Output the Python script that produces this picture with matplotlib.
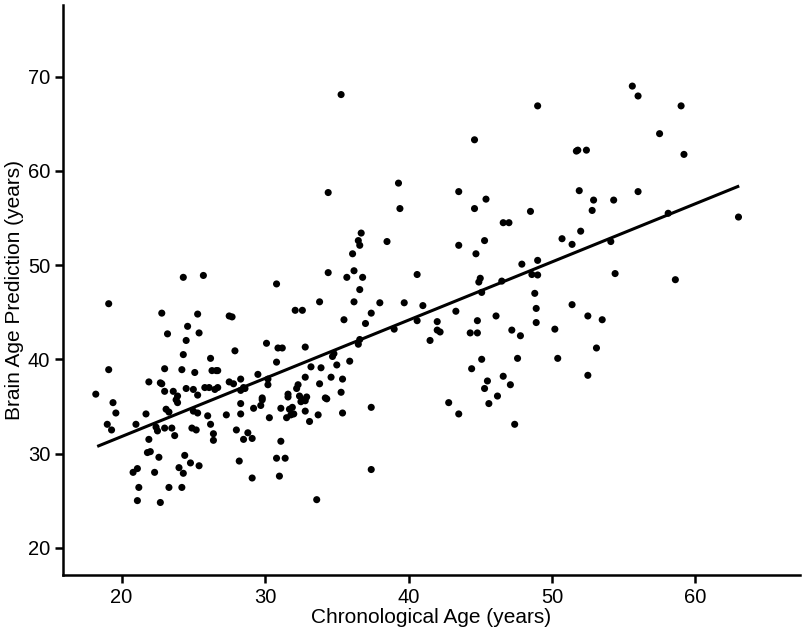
import matplotlib

matplotlib.use("Agg")
import matplotlib.pyplot as plt
import numpy as np

# chronological age (x) and predicted brain age (y)
chrono_age = [
    18.2, 19.1, 19.1, 19.4, 19.0, 19.3, 19.6, 21.0, 20.8, 21.1,
    21.2, 21.1, 21.7, 21.9, 21.9, 21.8, 22.0, 22.3, 22.6, 22.4,
    22.5, 22.7, 22.8, 22.8, 22.7, 23.0, 23.0, 23.2, 23.1, 23.3,
    23.0, 23.3, 23.5, 23.6, 23.7, 23.8, 23.9, 24.0, 24.2, 24.2,
    24.3, 24.3, 24.3, 24.4, 24.5, 24.6, 24.5, 24.8, 24.9, 25.0,
    25.1, 25.0, 25.2, 25.3, 25.3, 25.3, 25.4, 25.4, 25.7, 25.8,
    26.0, 26.2, 26.1, 26.2, 26.3, 26.6, 26.4, 26.4, 26.5, 26.7,
    26.7, 27.3, 27.5, 27.5, 27.7, 27.8, 27.9, 28.0, 28.2, 28.3,
    28.3, 28.3, 28.3, 28.5, 28.5, 28.8, 29.1, 29.1, 29.2, 29.5,
    29.7, 29.8, 30.1, 30.2, 30.2, 30.3, 30.8, 30.8, 30.8, 30.9,
    31.0, 31.1, 31.1, 31.2, 31.4, 31.5, 31.6, 31.7, 31.8, 31.9,
    32.0, 32.1, 32.2, 32.3, 32.4, 32.5, 32.6, 32.6, 32.8, 32.8,
    32.8, 32.8, 33.1, 33.2, 33.6, 33.7, 33.8, 33.8, 33.9, 34.2,
    34.3, 34.4, 34.4, 34.6, 34.7, 34.8, 35.0, 35.3, 35.3, 35.4,
    35.4, 35.5, 35.7, 35.9, 36.1, 36.2, 36.2, 36.5, 36.6, 36.6,
    36.5, 36.6, 36.7, 36.8, 37.0, 37.4, 37.4, 37.4, 38.0, 38.5,
    39.0, 39.3, 39.4, 39.7, 40.6, 40.6, 41.0, 41.5, 42.0, 42.0,
    42.2, 42.8, 43.3, 43.5, 43.5, 43.5, 44.3, 44.4, 44.6, 44.6,
    44.7, 44.8, 44.8, 44.9, 45.0, 45.1, 45.1, 45.3, 45.4, 45.3,
    45.5, 45.6, 46.1, 46.2, 46.5, 46.6, 46.6, 47.0, 47.1, 47.2,
    47.4, 47.6, 47.8, 47.9, 48.5, 48.6, 48.8, 48.9, 48.9, 49.0,
    49.0, 49.0, 50.2, 50.4, 50.7, 51.4, 51.4, 51.7, 51.8, 51.9,
    52.0, 52.4, 52.5, 52.5, 52.8, 52.9, 53.1, 53.5, 54.1, 54.3,
    54.4, 55.6, 56.0, 56.0, 57.5, 58.1, 58.6, 59.0, 59.2, 63.0,
    31.6, 23.9, 29.8, 32.9, 28.6,
]
brain_age = [
    36.3, 45.9, 38.9, 35.4, 33.1, 32.5, 34.3, 33.1, 28.0, 28.4,
    26.4, 25.0, 34.2, 37.6, 31.5, 30.1, 30.2, 28.0, 29.6, 32.8,
    32.4, 24.8, 44.9, 37.4, 37.5, 36.6, 39.0, 42.7, 34.7, 34.4,
    32.7, 26.4, 32.7, 36.6, 31.9, 35.7, 35.4, 28.5, 26.4, 38.9,
    27.9, 40.5, 48.7, 29.8, 42.0, 43.5, 36.9, 29.0, 32.7, 36.8,
    38.6, 34.5, 32.5, 34.3, 36.2, 44.8, 42.8, 28.7, 48.9, 37.0,
    34.0, 33.1, 37.0, 40.1, 38.8, 38.8, 32.1, 31.4, 36.8, 37.0,
    38.8, 34.1, 37.6, 44.6, 44.5, 37.4, 40.9, 32.5, 29.2, 34.2,
    35.3, 37.9, 36.7, 37.0, 31.5, 32.2, 31.6, 27.4, 34.8, 38.4,
    35.1, 35.7, 41.7, 37.3, 37.9, 33.8, 48.0, 39.7, 29.5, 41.2,
    27.6, 34.8, 31.3, 41.2, 29.5, 33.8, 36.3, 34.7, 34.1, 34.9,
    34.2, 45.2, 36.9, 37.3, 36.1, 35.5, 45.2, 35.7, 38.1, 41.3,
    34.5, 35.6, 33.4, 39.2, 25.1, 34.1, 46.1, 37.4, 39.1, 35.9,
    35.8, 57.7, 49.2, 38.1, 40.3, 40.6, 39.4, 68.1, 36.5, 34.3,
    37.9, 44.2, 48.7, 39.8, 51.2, 49.4, 46.1, 52.6, 52.1, 47.4,
    41.6, 42.1, 53.4, 48.7, 43.8, 44.9, 34.9, 28.3, 46.0, 52.5,
    43.2, 58.7, 56.0, 46.0, 49.0, 44.1, 45.7, 42.0, 44.0, 43.1,
    42.9, 35.4, 45.1, 52.1, 57.8, 34.2, 42.8, 39.0, 63.3, 56.0,
    51.2, 44.1, 42.8, 48.2, 48.6, 47.1, 40.0, 52.6, 57.0, 36.9,
    37.7, 35.3, 44.6, 36.1, 48.3, 54.5, 38.2, 54.5, 37.3, 43.1,
    33.1, 40.1, 42.5, 50.1, 55.7, 49.0, 47.0, 43.9, 45.4, 66.9,
    48.95, 50.5, 43.2, 40.1, 52.8, 52.2, 45.8, 62.1, 62.2, 57.9,
    53.6, 62.2, 44.6, 38.3, 55.8, 56.9, 41.2, 44.2, 52.5, 56.9,
    49.1, 69.0, 67.95, 57.8, 63.95, 55.5, 48.45, 66.9, 61.75, 55.1,
    36.0, 36.1, 35.9, 36.0, 36.9,
]

# fitted regression line end points
fit_age = [18.3, 63.05]
fit_brain = [30.75, 58.4]

x_ticks = [20, 30, 40, 50, 60]
y_ticks = [20, 30, 40, 50, 60, 70]

plt.rcParams["font.family"] = ["Liberation Sans Narrow", "Liberation Sans", "DejaVu Sans"]

fig = plt.figure(figsize=(8.05, 6.34), dpi=100)
ax = fig.add_axes([0.078, 0.093, 0.916, 0.899])

ax.scatter(chrono_age, brain_age, s=26, color="black", edgecolors="none", zorder=3)
ax.plot(fit_age, fit_brain, color="black", linewidth=2.2, solid_capstyle="butt", zorder=2)

ax.set_xlim(15.9, 67.3)
ax.set_ylim(17.1, 77.6)
ax.set_xticks(x_ticks)
ax.set_yticks(y_ticks)

for side in ("top", "right"):
    ax.spines[side].set_visible(False)
for side in ("left", "bottom"):
    ax.spines[side].set_linewidth(1.8)

ax.tick_params(axis="both", direction="out", length=6, width=1.8, labelsize=14.5, pad=3)

ax.set_xlabel("Chronological Age (years)", fontsize=15, labelpad=1)
ax.set_ylabel("Brain Age Prediction (years)", fontsize=15, labelpad=3)

fig.savefig("out.png", dpi=100)
